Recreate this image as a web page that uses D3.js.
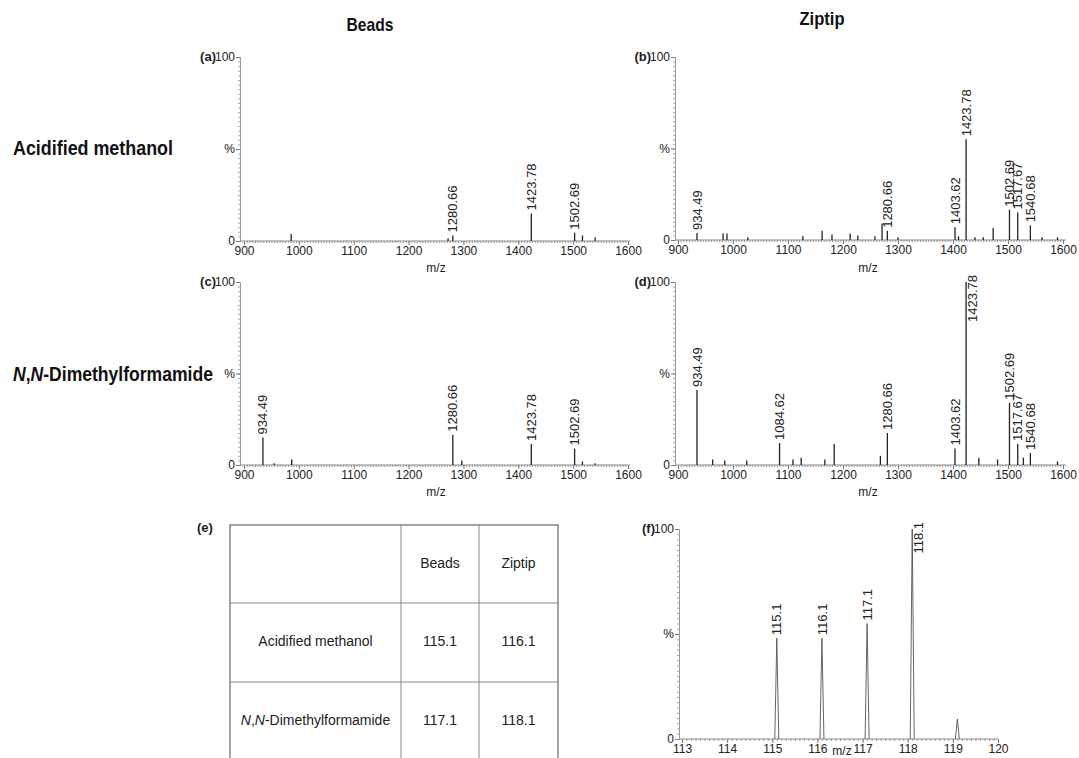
<!DOCTYPE html>
<html>
<head>
<meta charset="utf-8">
<script src="https://cdn.jsdelivr.net/npm/d3@7"></script>
<style>
body{margin:0;background:#fff;}
text{font-family:"Liberation Sans",Arial,sans-serif;fill:#222;}
.ttl{font-family:"Liberation Sans",Arial,sans-serif;font-weight:bold;fill:#111;}
</style>
</head>
<body>
<svg id="fig" width="1079" height="758"></svg>
<script>
// peaks: m/z and relative intensity (%)
var aMz  = [986, 1272, 1280.66, 1423.78, 1502.69, 1517, 1540];
var aInt = [3.8, 1.5, 3, 15, 4.5, 3, 2];
var aLab = [1280.66, 1423.78, 1502.69];

var bMz  = [934.49, 982, 989, 1027, 1127, 1162, 1180, 1213, 1227, 1258, 1271, 1280.66, 1300, 1403.62, 1410, 1423.78, 1440, 1455, 1473, 1502.69, 1517.67, 1540.68, 1562, 1590];
var bInt = [3.8, 3.5, 3.5, 1.5, 2, 5, 3, 3.5, 2.5, 2, 9, 5, 1.5, 7, 2, 55, 1.5, 1.5, 6.5, 16.5, 15, 8, 1.5, 1.5];
var bLab = [934.49, 1280.66, 1403.62, 1423.78, 1502.69, 1517.67, 1540.68];

var cMz  = [934.49, 955, 987, 1280.66, 1297, 1423.78, 1502.69, 1517, 1540];
var cInt = [15, 1, 3, 16.5, 2.5, 11.5, 9, 2, 1];
var cLab = [934.49, 1280.66, 1423.78, 1502.69];

var dMz  = [934.49, 963, 985, 1025, 1084.62, 1109, 1124, 1167, 1184, 1268, 1280.66, 1403.62, 1423.78, 1447, 1481, 1502.69, 1517.67, 1528, 1540.68, 1590];
var dInt = [41, 3, 2.5, 2.5, 12, 3, 4, 3, 11.5, 5, 17.5, 9, 100, 4, 3, 34, 11.5, 4, 6.5, 2];
var dLab = [934.49, 1084.62, 1280.66, 1403.62, 1423.78, 1502.69, 1517.67, 1540.68];

var fMz  = [115.1, 116.1, 117.1, 118.1, 119.1];
var fInt = [48, 48, 55, 100, 9.5];
var fLab = [115.1, 116.1, 117.1, 118.1];

var mzTicks = [900, 1000, 1100, 1200, 1300, 1400, 1500, 1600];
var fTicks  = [113, 114, 115, 116, 117, 118, 119, 120];

var colTitles = ["Beads", "Ziptip"];
var rowTitles = ["Acidified methanol", "N,N-Dimethylformamide"];
var tableHead = ["", "Beads", "Ziptip"];
var tableRows = [["Acidified methanol", "115.1", "116.1"],
                 ["N,N-Dimethylformamide", "117.1", "118.1"]];

var svg = d3.select("#fig");

var panels = [
  {tag:"(a)", mz:aMz, it:aInt, lab:aLab, ticks:mzTicks, dom:[900,1600], xr:[244,628], left:240, right:630, top:57,  base:241, minor:5, dec:2, mzY:272, mzX:436, line:true},
  {tag:"(b)", mz:bMz, it:bInt, lab:bLab, ticks:mzTicks, dom:[900,1600], xr:[678,1063], left:675, right:1066, top:57, base:240, minor:5, dec:2, mzY:272, mzX:868, line:true},
  {tag:"(c)", mz:cMz, it:cInt, lab:cLab, ticks:mzTicks, dom:[900,1600], xr:[244,628], left:240, right:630, top:282, base:465, minor:5, dec:2, mzY:496, mzX:436, line:true},
  {tag:"(d)", mz:dMz, it:dInt, lab:dLab, ticks:mzTicks, dom:[900,1600], xr:[678,1063], left:675, right:1066, top:282, base:465, minor:5, dec:2, mzY:496, mzX:868, line:true},
  {tag:"(f)", mz:fMz, it:fInt, lab:fLab, ticks:fTicks, dom:[113,120], xr:[682,998], left:679, right:998, top:529, base:739, minor:0.1, dec:1, mzY:755, mzX:842, line:false}
];

panels.forEach(function(p){
  var x = d3.scaleLinear().domain(p.dom).range(p.xr);
  var y = d3.scaleLinear().domain([0,100]).range([p.base, p.top]);
  var g = svg.append("g");

  // x axis: minor + major ticks
  var minorVals = d3.range(p.dom[0], p.dom[1] + p.minor/2, p.minor);
  g.append("g").attr("transform","translate(0,"+p.base+")")
    .call(d3.axisBottom(x).tickValues(minorVals).tickSize(2).tickFormat(""))
    .call(function(s){ s.select(".domain").remove(); s.selectAll("line").attr("stroke","#999"); });
  var xa = g.append("g").attr("transform","translate(0,"+p.base+")")
    .call(d3.axisBottom(x).tickValues(p.ticks).tickSize(4).tickPadding(1).tickFormat(d3.format("d")));
  xa.select(".domain").remove();
  xa.selectAll("line").attr("stroke","#777");
  xa.selectAll("text").style("font-size","12px").attr("fill","#222");
  g.append("line").attr("x1",p.left).attr("x2",p.right).attr("y1",p.base).attr("y2",p.base)
    .attr("stroke","#888").attr("stroke-width",1);

  // y axis
  g.append("g").attr("transform","translate("+p.left+",0)")
    .call(d3.axisLeft(y).tickValues(d3.range(0,101,2.5)).tickSize(2).tickFormat(""))
    .call(function(s){ s.select(".domain").attr("stroke","#999"); s.selectAll("line").attr("stroke","#aaa"); });
  var ya = g.append("g").attr("transform","translate("+p.left+",0)")
    .call(d3.axisLeft(y).tickValues([0,50,100]).tickSize(4).tickPadding(1)
      .tickFormat(function(d){ return d === 50 ? "%" : d; }));
  ya.select(".domain").remove();
  ya.selectAll("line").attr("stroke","#777");
  ya.selectAll("text").style("font-size","12px").attr("fill","#222");

  // panel tag next to "100"
  g.append("text").attr("x", p.left - 24).attr("y", p.top + 4)
    .attr("text-anchor","end").style("font-size","13px").style("font-weight","bold")
    .attr("fill","#111").text(p.tag);

  // m/z label
  g.append("text").attr("x", p.mzX).attr("y", p.mzY).attr("text-anchor","middle")
    .style("font-size","12px").text("m/z");

  // peaks
  var pk = p.mz.map(function(m,i){ return {m:m, v:p.it[i]}; });
  if (p.line) {
    g.selectAll(".pk").data(pk).enter().append("line")
      .attr("x1",function(d){return x(d.m);}).attr("x2",function(d){return x(d.m);})
      .attr("y1",p.base).attr("y2",function(d){return y(d.v);})
      .attr("stroke","#222").attr("stroke-width",1.3);
  } else {
    g.selectAll(".pk").data(pk).enter().append("path")
      .attr("d",function(d){ var cx = x(d.m); return "M"+(cx-2)+","+p.base+"L"+cx+","+y(d.v)+"L"+(cx+2)+","+p.base; })
      .attr("fill","none").attr("stroke","#555").attr("stroke-width",0.9);
  }

  // peak labels
  p.lab.forEach(function(m){
    var i = p.mz.indexOf(m);
    var v = p.it[i];
    var t = g.append("text").style("font-size","13px").attr("fill","#222").attr("dy","0.35em")
      .text(m.toFixed(p.dec));
    if (v >= 90) {
      t.attr("text-anchor","end").attr("transform","translate("+(x(m)+6)+","+(y(100)-7)+") rotate(-90)");
    } else {
      t.attr("text-anchor","start").attr("transform","translate("+x(m)+","+(y(v)-3)+") rotate(-90)");
    }
  });
});

// column and row titles: condensed bold, squeezed horizontally to the reference widths
function title(x, y, size, w, anchor, fill){
  var t = svg.append("text").attr("class","ttl").attr("text-anchor",anchor).style("font-size",size+"px");
  fill(t);
  var nat = t.node().getComputedTextLength();
  t.attr("transform","translate("+x+","+y+") scale("+(w/nat)+",1)");
  return t;
}
title(370, 31, 18, 47, "middle", function(t){ t.text(colTitles[0]); });
title(822, 25, 18, 45, "middle", function(t){ t.text(colTitles[1]); });
title(13, 155, 21, 160, "start", function(t){ t.text(rowTitles[0]); });
title(13, 381, 21, 200, "start", function(t){
  t.append("tspan").style("font-style","italic").text("N");
  t.append("tspan").text(",");
  t.append("tspan").style("font-style","italic").text("N");
  t.append("tspan").text(rowTitles[1].slice(3));
});

// (e) table
var colX = [230, 401, 479, 558];
var rowY = [525, 603, 682, 761];
var tg = svg.append("g");
tg.append("text").attr("x",197).attr("y",532).style("font-size","13px").style("font-weight","bold")
  .attr("fill","#111").text("(e)");
tg.append("rect").attr("x",colX[0]).attr("y",rowY[0]).attr("width",colX[3]-colX[0]).attr("height",rowY[3]-rowY[0])
  .attr("fill","none").attr("stroke","#666").attr("stroke-width",1.2);
[colX[1], colX[2]].forEach(function(cx){
  tg.append("line").attr("x1",cx).attr("x2",cx).attr("y1",rowY[0]).attr("y2",rowY[3]).attr("stroke","#888");
});
[rowY[1], rowY[2]].forEach(function(ry){
  tg.append("line").attr("x1",colX[0]).attr("x2",colX[3]).attr("y1",ry).attr("y2",ry).attr("stroke","#888");
});
var allRows = [tableHead].concat(tableRows);
allRows.forEach(function(r, ri){
  r.forEach(function(c, ci){
    if (!c) return;
    var t = tg.append("text").attr("x",(colX[ci]+colX[ci+1])/2).attr("y",(rowY[ri]+rowY[ri+1])/2 - 1)
      .attr("text-anchor","middle").attr("dy","0.35em").style("font-size","14px").attr("fill","#333");
    if (c.indexOf("N,N") === 0) {
      t.append("tspan").style("font-style","italic").text("N");
      t.append("tspan").text(",");
      t.append("tspan").style("font-style","italic").text("N");
      t.append("tspan").text(c.slice(3));
    } else {
      t.text(c);
    }
  });
});
</script>
</body>
</html>
